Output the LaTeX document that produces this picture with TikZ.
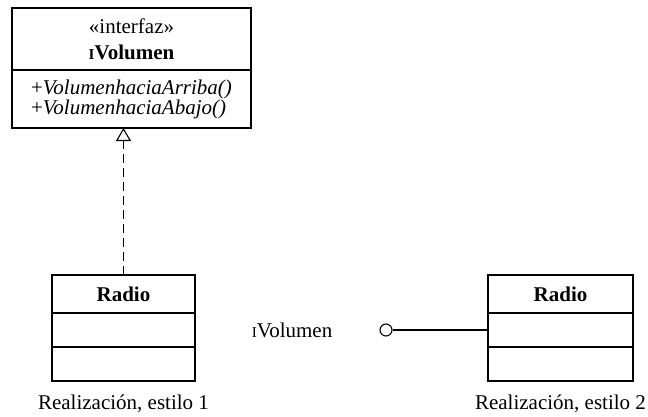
\documentclass[tikz,border=0pt]{standalone}
\usepackage{fontspec}
\setmainfont{Liberation Serif}
\usepackage{tikz}
\usetikzlibrary{arrows.meta, positioning}
\newcommand{\smallI}{\scalebox{0.72}{I}}

\begin{document}
\begin{tikzpicture}[x=1pt, y=-1pt, font=\fontsize{21}{26}\selectfont,
    compart/.style={rectangle, draw=black, line width=1.1pt, inner sep=2pt, outer sep=0pt, align=center},
    realize/.style={-{Triangle[open, length=13pt, width=15pt, fill=white]}, line width=1.1pt, dash pattern=on 9pt off 5pt},
    lolli/.style={circle, draw=black, line width=1.1pt, fill=white, minimum size=12pt, inner sep=0pt},
    caption/.style={inner sep=0pt}
]
\useasboundingbox (0,0) rectangle (648,416);

\node (IFACEHEAD) [compart, minimum width=239pt, minimum height=62pt] at (131.5,39) {«interfaz»\\\textbf{\smallI Volumen}};
\node (IFACEOPS)  [compart, minimum width=239pt, minimum height=58pt, align=left, below=0pt of IFACEHEAD, font=\fontsize{21}{20}\selectfont] {+\textit{VolumenhaciaArriba()}\\+\textit{VolumenhaciaAbajo()}};

\node (RADIOA)     [compart, minimum width=143pt, minimum height=38pt] at (123.5,294) {\textbf{Radio}};
\node (RADIOAATTR) [compart, minimum width=143pt, minimum height=34pt, below=0pt of RADIOA] {};
\node (RADIOAOPS)  [compart, minimum width=143pt, minimum height=34pt, below=0pt of RADIOAATTR] {};
\node (CAPTIONA)   [caption, below=14pt of RADIOAOPS] {Realización, estilo 1};

\node (RADIOB)     [compart, minimum width=145pt, minimum height=38pt] at (560.5,294) {\textbf{Radio}};
\node (RADIOBATTR) [compart, minimum width=145pt, minimum height=34pt, below=0pt of RADIOB] {};
\node (RADIOBOPS)  [compart, minimum width=145pt, minimum height=34pt, below=0pt of RADIOBATTR] {};
\node (CAPTIONB)   [caption, below=14pt of RADIOBOPS] {Realización, estilo 2};

\node (LOLLI)    [lolli] at (386,330) {};
\node (IFACELBL) [caption, left=47pt of LOLLI] {\smallI Volumen};

\draw [realize] (RADIOA.north) -- (RADIOA.north |- IFACEOPS.south);
\draw [line width=1.1pt] (LOLLI) -- (RADIOBATTR.west);

\end{tikzpicture}
\end{document}
